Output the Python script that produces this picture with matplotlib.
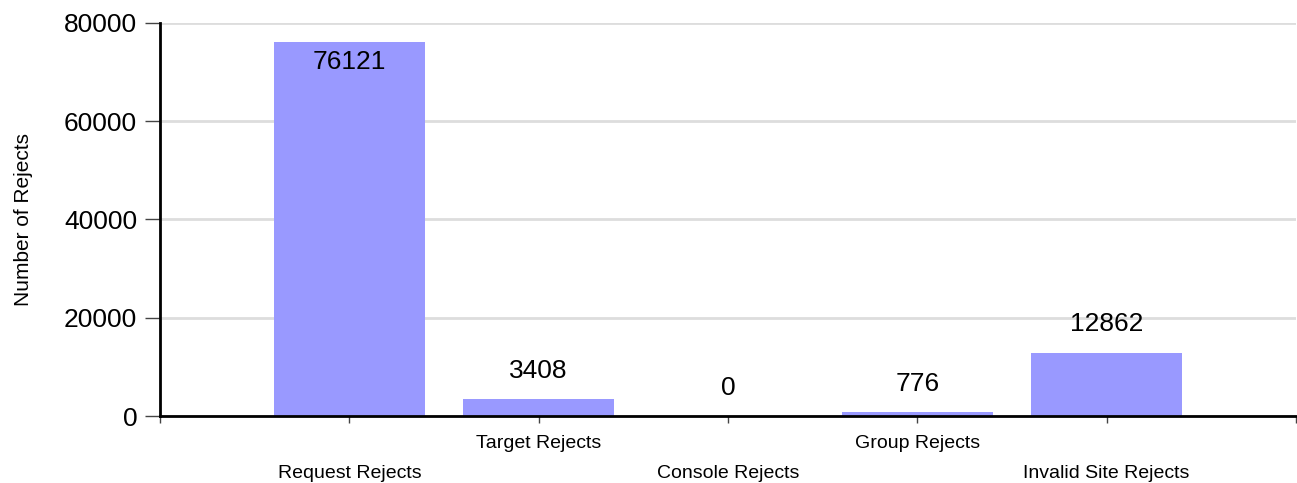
import numpy as np
import matplotlib.pyplot as plt

plt.rcParams['font.family'] = ['Liberation Sans', 'DejaVu Sans']

# Data

categories = ["Request Rejects", "Target Rejects", "Console Rejects",
              "Group Rejects", "Invalid Site Rejects"]
rejects = [76121, 3408, 0, 776, 12862]

# Canvas

fig = plt.figure(figsize=(12.97, 4.83), dpi=100)
ax = fig.add_axes((0.1234, 0.1387, 0.8758, 0.8137))

x = np.arange(1, len(categories) + 1)
ax.bar(x, rejects, width=0.8, color="#9999ff", zorder=2)

ax.set_xlim(0, len(categories) + 1)
ax.set_ylim(0, 80000)
ax.set_yticks([0, 20000, 40000, 60000, 80000])
ax.yaxis.grid(True, color="#dddddd", linewidth=2, zorder=0)
ax.tick_params(axis="y", labelsize=19, length=11, width=1, pad=5.5,
               color="#444444")

ax.set_xticks(np.arange(0, len(categories) + 2))
ax.set_xticklabels([""] + categories + [""], fontsize=14)
ax.tick_params(axis="x", length=5, width=1, color="#444444")
for i, tick in enumerate(ax.xaxis.get_major_ticks()):
    tick.set_pad(30 if i % 2 == 1 else 9)

for side in ("top", "right"):
    ax.spines[side].set_visible(False)
for side in ("left", "bottom"):
    ax.spines[side].set_linewidth(2)
    ax.spines[side].set_zorder(3)

ax.set_ylabel("Number of Rejects", fontsize=15, labelpad=22)

# Value labels

for xi, v in zip(x, rejects):
    dy = -14.5 if v > 70000 else 20.5
    ax.annotate(str(v), (xi, v), xytext=(0, dy), textcoords="offset points",
                ha="center", va="center", fontsize=19)

fig.savefig("out.png", dpi=100)
